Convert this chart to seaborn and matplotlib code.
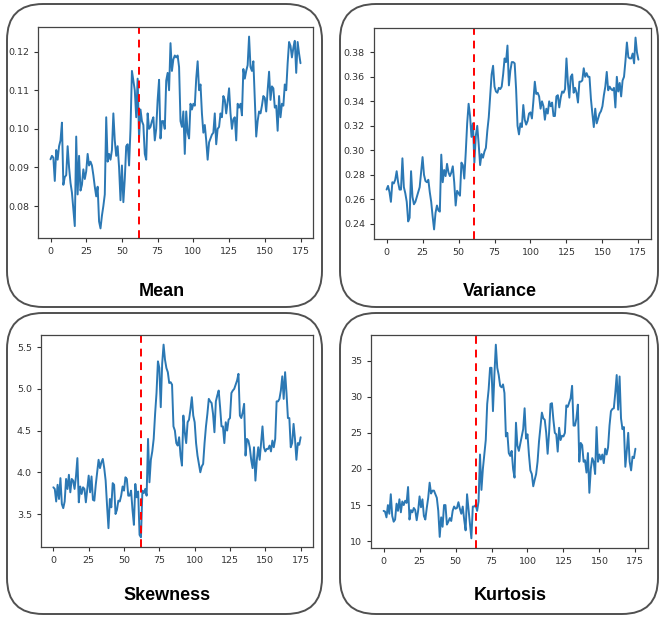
import numpy as np
import pandas as pd
import matplotlib
matplotlib.use('Agg')
import matplotlib.pyplot as plt
import seaborn as sns
from matplotlib.patches import FancyBboxPatch
from matplotlib.transforms import IdentityTransform
from matplotlib.ticker import MultipleLocator

# values, one per window (0..175)
mean_vals = [
    0.0921, 0.0930, 0.0925, 0.0865, 0.0945, 0.0920, 0.0955, 0.0970, 0.1016, 0.0855,
    0.0875, 0.0880, 0.0955, 0.0900, 0.0860, 0.0835, 0.0790, 0.0748, 0.0980, 0.0830,
    0.0930, 0.0840, 0.0855, 0.0895, 0.0870, 0.0890, 0.0935, 0.0905, 0.0915, 0.0905,
    0.0880, 0.0850, 0.0825, 0.0850, 0.0760, 0.0742, 0.0775, 0.0800, 0.0830, 0.1030,
    0.0915, 0.0935, 0.0920, 0.0945, 0.1040, 0.0970, 0.0930, 0.0955, 0.0900, 0.0815,
    0.0905, 0.0810, 0.0870, 0.0955, 0.0960, 0.0905, 0.1000, 0.1150, 0.1125, 0.1100,
    0.1030, 0.1130, 0.0975, 0.1050, 0.1020, 0.1010, 0.0935, 0.0920, 0.1040, 0.1000,
    0.1005, 0.1020, 0.1030, 0.0970, 0.1000, 0.1075, 0.1127, 0.0975, 0.1020, 0.1020,
    0.1000, 0.1125, 0.1145, 0.1100, 0.1222, 0.1150, 0.1180, 0.1190, 0.1185, 0.1190,
    0.1160, 0.1020, 0.1005, 0.1045, 0.0935, 0.1045, 0.0990, 0.0975, 0.1065, 0.1050,
    0.1065, 0.1060, 0.1130, 0.1175, 0.1100, 0.1115, 0.1040, 0.0990, 0.1010, 0.0970,
    0.0920, 0.0965, 0.0975, 0.0985, 0.0990, 0.1040, 0.0960, 0.1000, 0.1005, 0.1040,
    0.1030, 0.1085, 0.1075, 0.1040, 0.1070, 0.1105, 0.1040, 0.1000, 0.1025, 0.1030,
    0.0970, 0.1065, 0.1055, 0.1065, 0.1035, 0.1155, 0.1130, 0.1150, 0.1165, 0.1239,
    0.1160, 0.1150, 0.1175, 0.1075, 0.0980, 0.1020, 0.1045, 0.1040, 0.1060, 0.1085,
    0.1080, 0.1045, 0.1100, 0.1148, 0.1075, 0.1110, 0.1105, 0.1055, 0.1060, 0.0995,
    0.1085, 0.1030, 0.1065, 0.1060, 0.1115, 0.1100, 0.1170, 0.1225, 0.1215, 0.1185,
    0.1210, 0.1228, 0.1145, 0.1225, 0.1195, 0.1170,
]

variance_vals = [
    0.268, 0.271, 0.266, 0.258, 0.274, 0.273, 0.276, 0.283, 0.274, 0.268,
    0.268, 0.2935, 0.270, 0.265, 0.258, 0.242, 0.245, 0.283, 0.262, 0.256,
    0.258, 0.262, 0.266, 0.270, 0.282, 0.2945, 0.280, 0.275, 0.274, 0.276,
    0.266, 0.258, 0.246, 0.2355, 0.249, 0.255, 0.251, 0.250, 0.2965, 0.274,
    0.284, 0.279, 0.289, 0.282, 0.279, 0.282, 0.287, 0.274, 0.255, 0.267,
    0.265, 0.263, 0.290, 0.288, 0.277, 0.298, 0.322, 0.338, 0.328, 0.311,
    0.322, 0.290, 0.312, 0.320, 0.305, 0.288, 0.297, 0.294, 0.299, 0.302,
    0.316, 0.327, 0.345, 0.362, 0.369, 0.352, 0.348, 0.347, 0.351, 0.350,
    0.352, 0.362, 0.375, 0.372, 0.3855, 0.353, 0.365, 0.372, 0.372, 0.371,
    0.350, 0.320, 0.313, 0.322, 0.319, 0.337, 0.325, 0.321, 0.324, 0.330,
    0.331, 0.326, 0.340, 0.356, 0.346, 0.347, 0.344, 0.334, 0.340, 0.336,
    0.325, 0.334, 0.330, 0.340, 0.336, 0.339, 0.328, 0.328, 0.344, 0.345,
    0.335, 0.343, 0.348, 0.347, 0.350, 0.375, 0.355, 0.343, 0.360, 0.362,
    0.347, 0.351, 0.347, 0.339, 0.356, 0.356, 0.357, 0.367, 0.360, 0.363,
    0.360, 0.360, 0.342, 0.330, 0.319, 0.334, 0.322, 0.326, 0.330, 0.332,
    0.336, 0.345, 0.352, 0.364, 0.349, 0.352, 0.350, 0.349, 0.351, 0.335,
    0.360, 0.348, 0.355, 0.344, 0.357, 0.360, 0.373, 0.388, 0.376, 0.375,
    0.375, 0.379, 0.371, 0.392, 0.380, 0.374,
]

skewness_vals = [
    3.82, 3.80, 3.65, 3.85, 3.68, 3.93, 3.62, 3.57, 3.65, 3.92,
    3.80, 3.97, 3.76, 3.92, 3.90, 3.80, 3.95, 4.17, 3.64, 3.83,
    3.74, 3.82, 3.80, 3.64, 3.80, 3.96, 3.76, 3.95, 3.67, 3.66,
    3.85, 4.00, 4.15, 4.05, 4.12, 4.16, 4.05, 3.90, 3.60, 3.33,
    3.68, 3.58, 3.87, 3.85, 3.50, 3.55, 3.66, 3.65, 3.72, 3.83,
    3.78, 3.94, 3.92, 3.72, 3.72, 3.78, 3.55, 3.37, 3.86, 3.70,
    3.77, 3.25, 3.22, 3.78, 3.75, 3.80, 3.72, 4.40, 3.88, 4.15,
    4.25, 4.40, 4.70, 4.95, 5.33, 5.25, 4.78, 5.30, 5.53, 5.35,
    5.25, 5.20, 5.07, 5.08, 5.05, 4.55, 4.50, 4.35, 4.32, 4.42,
    4.20, 4.08, 4.68, 4.48, 4.35, 4.60, 4.63, 4.75, 4.90, 4.68,
    4.60, 4.35, 4.20, 4.10, 4.00, 4.07, 4.10, 4.35, 4.55, 4.70,
    4.88, 4.85, 4.83, 4.70, 4.48, 4.85, 4.92, 4.98, 4.78, 4.55,
    4.55, 4.35, 4.60, 4.50, 4.63, 4.65, 4.95, 4.98, 5.00, 5.05,
    5.10, 5.18, 4.68, 4.65, 4.72, 4.82, 4.20, 4.40, 4.38, 4.30,
    4.15, 4.05, 4.30, 3.90, 4.15, 4.30, 4.15, 4.35, 4.55, 4.30,
    4.25, 4.28, 4.28, 4.32, 4.25, 4.38, 4.30, 4.40, 4.85, 4.85,
    4.88, 4.98, 5.15, 4.88, 5.20, 4.95, 4.65, 4.65, 4.30, 4.35,
    4.58, 4.40, 4.15, 4.35, 4.33, 4.42,
]

kurtosis_vals = [
    14.2, 14.1, 13.3, 15.0, 13.8, 16.5, 13.5, 12.7, 13.0, 15.2,
    14.2, 15.8, 14.0, 15.5, 15.0, 15.6, 15.3, 17.5, 13.0, 14.3,
    14.0, 14.6, 14.3, 12.9, 14.2, 16.2, 14.7, 15.8, 13.5, 13.0,
    14.6, 16.0, 18.1, 16.6, 17.0, 17.0, 16.5, 16.0, 14.2, 10.6,
    13.3, 12.0, 15.0, 15.0, 12.3, 12.7, 13.2, 12.8, 14.2, 14.8,
    14.5, 14.6, 15.4, 14.5, 13.8, 14.8, 13.0, 11.5, 16.5, 14.5,
    12.5, 10.4, 14.8, 14.8, 15.0, 14.2, 15.5, 22.0, 17.1, 20.0,
    22.0, 24.0, 29.0, 31.0, 34.0, 34.0, 28.0, 33.0, 37.2, 34.0,
    33.0, 31.5, 31.3, 31.7, 30.5, 24.5, 25.0, 22.2, 21.8, 22.5,
    20.0, 18.8, 26.4, 23.2, 22.5, 23.5, 24.5, 25.5, 28.4, 24.2,
    24.8, 22.0, 19.8, 19.3, 17.6, 18.5, 19.3, 21.0, 23.8, 25.8,
    27.8, 27.0, 26.8, 25.0, 22.1, 25.0, 29.0, 29.1, 26.8, 25.0,
    24.8, 22.4, 25.7, 24.0, 24.6, 24.5, 25.0, 28.8, 28.6, 29.2,
    29.8, 31.5, 26.0, 26.0, 27.0, 28.9, 21.0, 23.6, 23.3, 21.0,
    21.2, 19.5, 22.2, 16.7, 20.0, 21.5, 21.0, 19.3, 25.8, 21.0,
    22.0, 21.3, 22.0, 20.8, 22.8, 22.0, 23.0, 26.0, 28.0, 28.3,
    28.4, 30.5, 33.0, 28.2, 32.8, 27.0, 25.5, 25.8, 20.3, 22.5,
    25.0, 21.0, 19.8, 21.7, 21.5, 22.8,
]

titles = ['Mean', 'Variance', 'Skewness', 'Kurtosis']
change_points = [62, 61, 62, 64]
y_steps = [0.01, 0.02, 0.5, 5]

W, H = 659, 617

sns.set_style('ticks')
plt.rcParams['font.family'] = ['DejaVu Sans']

fig = plt.figure(figsize=(W / 100, H / 100), dpi=100)
fig.patch.set_facecolor('white')


def px_axes(left, top, right, bottom):
    return fig.add_axes([left / W, 1 - bottom / H, (right - left) / W, (bottom - top) / H])


def rounded_box(left, top, right, bottom):
    box = FancyBboxPatch((left, H - bottom), right - left, bottom - top,
                         boxstyle='round,pad=0,rounding_size=36',
                         transform=IdentityTransform(),
                         facecolor='none', edgecolor='#505050', linewidth=1.4)
    fig.add_artist(box)


# (axes box), (rounded frame), (title centre) in pixels
layout = [
    ((38, 27, 313, 238), (7, 4, 322, 307), (162, 291)),
    ((374, 28, 651, 239), (340, 4, 658, 307), (500, 291)),
    ((41, 335, 313, 547), (7, 313, 322, 614), (167, 595)),
    ((371, 335, 648, 548), (340, 313, 658, 614), (510, 595)),
]

series = [mean_vals, variance_vals, skewness_vals, kurtosis_vals]

for vals, title, cp, step, (ax_px, box_px, t_px) in zip(series, titles, change_points, y_steps, layout):
    rounded_box(*box_px)
    ax = px_axes(*ax_px)
    df = pd.DataFrame({'window': np.arange(len(vals)), 'value': vals})
    sns.lineplot(data=df, x='window', y='value', ax=ax, color='#2b78b4', linewidth=1.4)
    ax.axvline(cp, color='red', linestyle='--', linewidth=1.4, dashes=(4, 3))
    ax.xaxis.set_major_locator(MultipleLocator(25))
    ax.yaxis.set_major_locator(MultipleLocator(step))
    ax.set_xlabel('')
    ax.set_ylabel('')
    ax.tick_params(labelsize=6.8, colors='#333333', length=3, width=0.8)
    for sp in ax.spines.values():
        sp.set_color('#444444')
        sp.set_linewidth(0.9)
    fig.text(t_px[0] / W, 1 - t_px[1] / H, title, ha='center', va='center',
             fontsize=13, fontweight='bold', family='Liberation Sans', color='black')

fig.savefig('out.png', dpi=100)
